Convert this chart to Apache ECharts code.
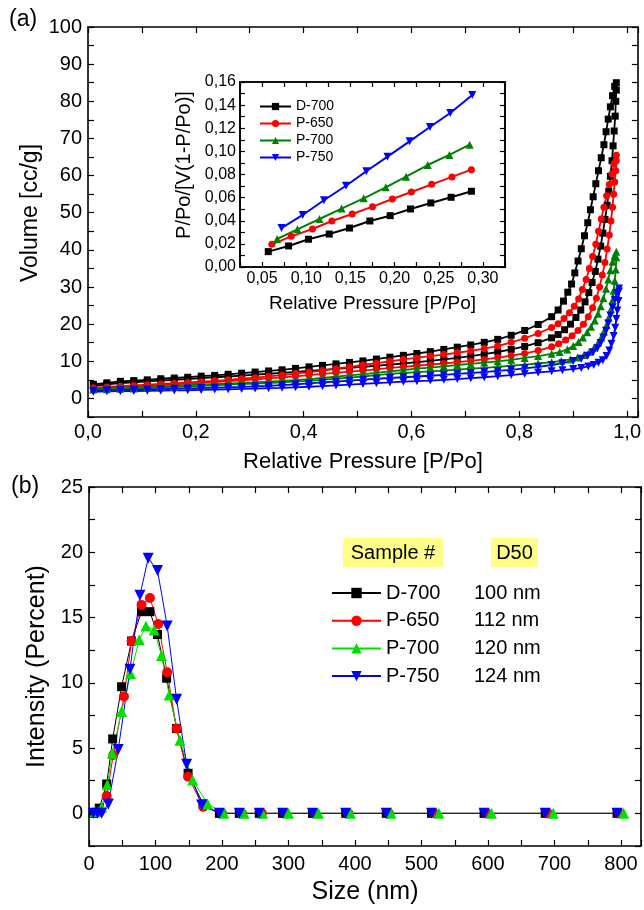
<!DOCTYPE html>
<html>
<head>
<meta charset="utf-8">
<script src="https://cdn.jsdelivr.net/npm/echarts@6/dist/echarts.min.js"></script>
<style>
  html, body { margin: 0; padding: 0; background: #fff; }
  #chart { width: 644px; height: 910px; }
</style>
</head>
<body>
<div id="chart"></div>
<script>
const FONT = '"Liberation Sans", Arial, sans-serif';

const samples = ['D-700', 'P-650', 'P-700', 'P-750'];
const d50 = ['100 nm', '112 nm', '120 nm', '124 nm'];

// (a) isotherms: shared low-pressure grid, then the steep part as [P, V]
const pLow = [0.01, 0.035, 0.06, 0.085, 0.11, 0.135, 0.16, 0.185, 0.21, 0.235, 0.26, 0.285, 0.31, 0.335, 0.36, 0.385, 0.41, 0.435, 0.46, 0.485, 0.51, 0.535, 0.56, 0.585, 0.61, 0.635, 0.66, 0.685, 0.71, 0.735, 0.76, 0.785, 0.81, 0.835, 0.86];

const d700Des = [3.8, 4.2, 4.6, 4.8, 5.0, 5.3, 5.5, 5.7, 6.0, 6.2, 6.5, 6.8, 7.1, 7.4, 7.7, 8.1, 8.5, 8.9, 9.3, 9.7, 10.1, 10.6, 11.1, 11.6, 12.1, 12.6, 13.2, 13.8, 14.4, 15.1, 15.9, 17.0, 18.3, 19.9, 22.0];
const d700DesHigh = [[0.872, 23.8], [0.882, 26.2], [0.89, 28.6], [0.897, 30.8], [0.903, 33.8], [0.909, 37], [0.915, 40.3], [0.921, 43.8], [0.927, 47.3], [0.932, 50.8], [0.937, 54.3], [0.942, 57.8], [0.947, 61.3], [0.952, 64.8], [0.957, 68.3], [0.961, 71.8], [0.965, 75.2], [0.969, 78.5], [0.973, 81.5], [0.977, 84], [0.98, 85]];
const d700Ads = [3.4, 3.8, 4.1, 4.35, 4.6, 4.8, 5.0, 5.2, 5.45, 5.7, 5.9, 6.15, 6.4, 6.65, 6.9, 7.15, 7.4, 7.7, 7.95, 8.2, 8.5, 8.8, 9.1, 9.4, 9.75, 10.1, 10.5, 10.9, 11.4, 11.9, 12.5, 13.2, 14.0, 15.0, 16.3];
const d700AdsHigh = [[0.872, 17.2], [0.884, 18.5], [0.895, 20], [0.905, 21.8], [0.914, 23.8], [0.922, 26], [0.929, 28.5], [0.935, 31.2], [0.941, 34.2], [0.946, 37.5], [0.951, 41], [0.955, 44.5], [0.959, 48.2], [0.963, 52], [0.966, 55.8], [0.969, 59.8], [0.972, 64], [0.974, 68], [0.976, 72], [0.978, 76], [0.979, 80], [0.98, 83]];

const p650Des = [2.9, 3.1, 3.3, 3.5, 3.7, 3.9, 4.1, 4.3, 4.5, 4.75, 5.0, 5.3, 5.6, 5.95, 6.3, 6.7, 7.1, 7.5, 8.0, 8.5, 9.0, 9.5, 10.0, 10.5, 10.9, 11.4, 11.8, 12.3, 12.8, 13.4, 14.1, 15.1, 16.2, 17.5, 19.1];
const p650DesHigh = [[0.872, 20.1], [0.883, 21.5], [0.893, 23.1], [0.902, 24.8], [0.91, 26.8], [0.917, 29.3], [0.924, 32], [0.93, 35], [0.936, 38.2], [0.942, 41.5], [0.947, 45], [0.952, 48.3], [0.957, 51.5], [0.962, 54.6], [0.967, 57.6], [0.972, 60.5], [0.976, 63.2], [0.98, 65.5]];
const p650Ads = [2.6, 2.8, 3.0, 3.2, 3.4, 3.6, 3.8, 4.0, 4.2, 4.4, 4.65, 4.9, 5.15, 5.4, 5.65, 5.95, 6.25, 6.6, 6.9, 7.2, 7.5, 7.85, 8.2, 8.5, 8.8, 9.1, 9.4, 9.75, 10.1, 10.5, 11.0, 11.5, 12.1, 12.9, 13.9];
const p650AdsHigh = [[0.873, 14.7], [0.886, 15.7], [0.898, 16.9], [0.909, 18.3], [0.919, 20], [0.928, 22], [0.936, 24.4], [0.943, 27], [0.949, 30], [0.954, 33.2], [0.959, 36.6], [0.963, 40.2], [0.967, 44], [0.97, 47.8], [0.973, 51.5], [0.975, 55], [0.977, 58.3], [0.979, 61.3], [0.98, 64]];

const p700Des = [2.7, 2.8, 2.9, 3.0, 3.1, 3.25, 3.4, 3.55, 3.7, 3.85, 4.0, 4.15, 4.3, 4.5, 4.7, 4.95, 5.2, 5.5, 5.85, 6.2, 6.55, 6.9, 7.3, 7.65, 8.0, 8.3, 8.65, 9.0, 9.3, 9.65, 10.0, 10.4, 10.9, 11.4, 12.0];
const p700DesHigh = [[0.875, 12.5], [0.889, 13.2], [0.9, 14.1], [0.91, 15.2], [0.918, 16.4], [0.926, 17.8], [0.933, 19.3], [0.94, 21], [0.946, 22.8], [0.951, 24.8], [0.956, 27], [0.961, 29.5], [0.965, 32], [0.969, 34.5], [0.973, 36.8], [0.977, 38.5], [0.98, 39.5]];
const p700Ads = [2.4, 2.5, 2.6, 2.7, 2.8, 2.95, 3.1, 3.25, 3.4, 3.55, 3.7, 3.85, 4.0, 4.15, 4.3, 4.5, 4.75, 5.0, 5.3, 5.6, 5.9, 6.25, 6.6, 6.85, 7.1, 7.3, 7.5, 7.75, 8.0, 8.25, 8.5, 8.8, 9.1, 9.4, 9.75];
const p700AdsHigh = [[0.878, 10.1], [0.895, 10.5], [0.908, 11], [0.92, 11.7], [0.93, 12.6], [0.939, 13.7], [0.946, 15], [0.952, 16.4], [0.957, 18], [0.962, 19.8], [0.966, 21.8], [0.97, 24], [0.973, 26.5], [0.975, 29], [0.977, 31.7], [0.979, 34.7], [0.98, 38]];

const p750Des = [2.1, 2.2, 2.3, 2.35, 2.4, 2.5, 2.6, 2.7, 2.8, 2.9, 3.0, 3.1, 3.25, 3.4, 3.6, 3.8, 4.05, 4.3, 4.55, 4.8, 5.05, 5.3, 5.5, 5.7, 5.9, 6.1, 6.35, 6.6, 6.85, 7.1, 7.4, 7.7, 8.1, 8.5, 9.0];
const p750DesHigh = [[0.88, 9.5], [0.9, 10.1], [0.915, 10.7], [0.927, 11.5], [0.937, 12.4], [0.945, 13.5], [0.951, 14.9], [0.956, 16.4], [0.961, 18.2], [0.965, 20.2], [0.969, 22.3], [0.973, 24.5], [0.977, 26.6], [0.981, 28.4], [0.985, 29.6]];
const p750Ads = [1.8, 1.9, 1.95, 2.0, 2.05, 2.1, 2.15, 2.2, 2.3, 2.4, 2.45, 2.55, 2.65, 2.75, 2.85, 3.0, 3.15, 3.3, 3.5, 3.7, 3.9, 4.1, 4.3, 4.5, 4.65, 4.8, 5.0, 5.2, 5.45, 5.7, 6.0, 6.3, 6.65, 7.0, 7.3];
const p750AdsHigh = [[0.88, 7.6], [0.9, 7.9], [0.915, 8.2], [0.928, 8.6], [0.938, 9.0], [0.947, 9.6], [0.955, 10.3], [0.962, 11.4], [0.967, 12.9], [0.971, 14.7], [0.975, 16.8], [0.978, 19], [0.98, 21.4], [0.982, 23.7], [0.984, 26.2], [0.985, 28.8]];

// inset: BET plot
const insetD700 = [[0.057, 0.0133], [0.080, 0.0182], [0.1025, 0.024], [0.126, 0.0285], [0.149, 0.0337], [0.172, 0.0398], [0.195, 0.0444], [0.218, 0.0502], [0.241, 0.0554], [0.264, 0.0603], [0.287, 0.0655]];
const insetP650 = [[0.061, 0.0196], [0.083, 0.0265], [0.107, 0.0329], [0.129, 0.0398], [0.152, 0.0458], [0.175, 0.0522], [0.1975, 0.0588], [0.219, 0.0649], [0.242, 0.0715], [0.265, 0.0779], [0.287, 0.0842]];
const insetP700 = [[0.067, 0.0242], [0.090, 0.0326], [0.115, 0.0415], [0.140, 0.0505], [0.165, 0.0594], [0.190, 0.0689], [0.213, 0.0781], [0.2375, 0.0882], [0.262, 0.0969], [0.285, 0.1058]];
const insetP750 = [[0.072, 0.0337], [0.096, 0.045], [0.120, 0.0577], [0.145, 0.0703], [0.168, 0.0828], [0.192, 0.0954], [0.217, 0.1087], [0.240, 0.1211], [0.263, 0.1332], [0.288, 0.1488]];

// (b) size distribution [size nm, intensity %]
const psdD700 = [[6.5, 0], [15.5, 0.4], [26.6, 2.25], [35.6, 5.7], [49, 9.7], [64, 13.2], [79, 15.45], [91.6, 15.45], [103, 13.7], [116.7, 10.35], [131.7, 6.5], [149, 3.07], [171.7, 0.72], [196, 0], [226, 0], [256, 0], [291, 0], [336, 0], [386, 0], [447, 0], [515, 0], [594, 0], [686, 0], [794, 0]];
const psdP650 = [[16.5, 0.13], [26.6, 1.33], [36.5, 4.47], [52.6, 8.95], [64, 13.2], [79, 15.97], [91.6, 16.5], [104, 14.5], [117.6, 10.8], [131.7, 6.5], [149, 2.8], [171.7, 0.5], [200, 0], [230, 0], [260, 0], [295, 0], [340, 0], [390, 0], [451, 0], [519, 0], [598, 0], [690, 0], [798, 0]];
const psdP700 = [[9, 0.13], [19, 0.47], [27.5, 2.2], [35, 4.6], [49, 7.8], [62.6, 10.7], [75.6, 13.3], [85.6, 14.35], [98, 14.05], [109, 12.1], [120.6, 9.07], [136.7, 5.6], [155.8, 2.56], [178.3, 0.72], [202.6, 0], [233, 0], [261, 0], [300, 0], [345, 0], [393, 0], [454, 0], [526, 0], [605, 0], [698, 0], [804, 0]];
const psdP750 = [[6.5, 0], [13, 0], [19, 0], [29, 0.72], [44, 4.9], [61.6, 11.04], [76.6, 16.7], [89, 19.55], [103, 18.6], [117.6, 14.36], [131.7, 8.74], [146.8, 3.76], [169.3, 0.64], [196, 0], [226, 0], [256, 0], [291, 0], [336, 0], [386, 0], [447, 0], [515, 0], [594, 0], [686, 0], [794, 0]];

const topColors = ['#000000', '#ff0000', '#008000', '#0000ff'];
const botColors = ['#000000', '#ff0000', '#00e000', '#0000ff'];
const symbols = ['rect', 'circle', 'triangle', 'triangle'];
const rotates = [0, 0, 0, 180];

const isotherms = [
  [d700Ads, d700AdsHigh, d700Des, d700DesHigh],
  [p650Ads, p650AdsHigh, p650Des, p650DesHigh],
  [p700Ads, p700AdsHigh, p700Des, p700DesHigh],
  [p750Ads, p750AdsHigh, p750Des, p750DesHigh]
];
const insets = [insetD700, insetP650, insetP700, insetP750];
const psds = [psdD700, psdP650, psdP700, psdP750];

// label only on multiples of step, comma decimals
function fmt(step, dec) {
  return function (v) {
    const k = Math.round(v / step);
    if (Math.abs(v - k * step) > step * 1e-3) return '';
    return (k * step).toFixed(dec).replace('.', ',');
  };
}

function axis(pos, grid, min, max, interval, o) {
  const main = pos === 'bottom' || pos === 'left';
  return {
    type: 'value', gridIndex: grid, position: pos,
    min: min, max: max, interval: interval,
    axisLine: { show: true, onZero: false, lineStyle: { color: '#000', width: 1.6 } },
    axisTick: { show: true, inside: true, length: o.tick || 6, lineStyle: { color: '#000', width: 1.2 } },
    splitLine: { show: false },
    axisLabel: {
      show: main, formatter: o.fmt, color: '#000', fontSize: o.fs,
      fontFamily: FONT, margin: o.margin
    },
    name: main ? o.name : '',
    nameLocation: 'middle',
    nameGap: o.gap,
    nameTextStyle: { color: '#000', fontSize: o.nfs, fontFamily: FONT }
  };
}

const mainX = { fmt: fmt(0.2, 1), fs: 20, margin: 5, name: 'Relative Pressure [P/Po]', gap: 34, nfs: 22 };
const mainY = { fmt: fmt(10, 0), fs: 20, margin: 6, name: '', gap: 45, nfs: 23 };
const insX = { fmt: fmt(0.05, 2), fs: 16, margin: 4, name: 'Relative Pressure [P/Po]', gap: 27, nfs: 19, tick: 5 };
const insY = { fmt: fmt(0.02, 2), fs: 16, margin: 4, name: '', gap: 46, nfs: 20, tick: 5 };
const psdX = { fmt: fmt(100, 0), fs: 20, margin: 8, name: 'Size (nm)', gap: 34, nfs: 25 };
const psdY = { fmt: fmt(5, 0), fs: 20, margin: 6, name: 'Intensity (Percent)', gap: 38, nfs: 25 };

const series = [];
isotherms.forEach(function (s, i) {
  const ads = pLow.map(function (p, j) { return [p, s[0][j]]; }).concat(s[1]);
  const des = pLow.map(function (p, j) { return [p, s[2][j]]; }).concat(s[3]);
  [ads, des].forEach(function (data, b) {
    series.push({
      name: samples[i] + (b ? ' des' : ' ads'),
      type: 'line', xAxisIndex: 0, yAxisIndex: 0, data: data,
      symbol: symbols[i], symbolRotate: rotates[i], symbolSize: i >= 2 ? 8 : 7,
      lineStyle: { color: topColors[i], width: 1.8 },
      itemStyle: { color: topColors[i] }
    });
  });
});
insets.forEach(function (data, i) {
  series.push({
    name: samples[i], type: 'line', xAxisIndex: 2, yAxisIndex: 2, data: data,
    symbol: symbols[i], symbolRotate: rotates[i], symbolSize: i >= 2 ? 8 : 7,
    lineStyle: { color: topColors[i], width: 2 },
    itemStyle: { color: topColors[i] }
  });
});
psds.forEach(function (data, i) {
  series.push({
    name: 'b:' + samples[i], type: 'line', xAxisIndex: 4, yAxisIndex: 4, data: data,
    symbol: symbols[i], symbolRotate: rotates[i], symbolSize: i === 0 ? 9 : (i === 1 ? 10 : 11),
    lineStyle: { color: botColors[i], width: 1 },
    itemStyle: { color: botColors[i] }
  });
});

const chart = echarts.init(document.getElementById('chart'), null, { renderer: 'canvas' });
chart.setOption({
  animation: false,
  backgroundColor: '#fff',
  textStyle: { fontFamily: FONT },
  grid: [
    { left: 88, top: 27, width: 553, height: 390, containLabel: false },
    { left: 240, top: 82, width: 265, height: 185, containLabel: false, show: true, backgroundColor: '#fff', borderColor: '#000', borderWidth: 1.6 },
    { left: 89, top: 487, width: 552, height: 359, containLabel: false }
  ],
  xAxis: [
    axis('bottom', 0, 0, 1.02, 0.1, mainX),
    axis('top', 0, 0, 1.02, 0.1, mainX),
    axis('bottom', 1, 0.025, 0.325, 0.025, insX),
    axis('top', 1, 0.025, 0.325, 0.025, insX),
    axis('bottom', 2, 0, 830, 50, psdX),
    axis('top', 2, 0, 830, 50, psdX)
  ],
  yAxis: [
    axis('left', 0, -5, 100, 5, mainY),
    axis('right', 0, -5, 100, 5, mainY),
    axis('left', 1, 0, 0.16, 0.01, insY),
    axis('right', 1, 0, 0.16, 0.01, insY),
    axis('left', 2, -2.5, 25, 2.5, psdY),
    axis('right', 2, -2.5, 25, 2.5, psdY)
  ],
  legend: [
    {
      data: samples, orient: 'vertical', left: 259, top: 98, padding: 0,
      itemWidth: 31, itemHeight: 9, itemGap: 0, selectedMode: false,
      textStyle: { fontSize: 14, lineHeight: 17, color: '#000', fontFamily: FONT }
    },
    {
      data: samples.map(function (s) { return 'b:' + s; }),
      orient: 'vertical', left: 331, top: 581, padding: 0,
      itemWidth: 49, itemHeight: 13, itemGap: 3.7, selectedMode: false,
      formatter: function (n) {
        const i = samples.indexOf(n.slice(2));
        return '{n|' + samples[i] + '}{d|' + d50[i] + '}';
      },
      textStyle: {
        fontSize: 20, lineHeight: 24, color: '#000', fontFamily: FONT,
        rich: {
          n: { width: 88, fontSize: 20, fontFamily: FONT, color: '#000' },
          d: { fontSize: 20, fontFamily: FONT, color: '#000' }
        }
      }
    }
  ],
  graphic: [
    { type: 'text', left: 9, top: 8, style: { text: '(a)', fontSize: 23, fontFamily: FONT, fill: '#000' } },
    { type: 'text', left: 11, top: 475, style: { text: '(b)', fontSize: 23, fontFamily: FONT, fill: '#000' } },
    { type: 'text', x: 31, y: 213, rotation: Math.PI / 2, style: { text: 'Volume [cc/g]', fontSize: 23, fontFamily: FONT, fill: '#000', align: 'center', verticalAlign: 'middle' } },
    { type: 'text', x: 184, y: 165, rotation: Math.PI / 2, style: { text: 'P/Po/[V(1-P/Po)]', fontSize: 20, fontFamily: FONT, fill: '#000', align: 'center', verticalAlign: 'middle' } },
    { type: 'rect', shape: { x: 343, y: 538, width: 100, height: 29 }, style: { fill: '#ffff88' }, z: 1 },
    { type: 'rect', shape: { x: 491, y: 538, width: 47, height: 29 }, style: { fill: '#ffff88' }, z: 1 },
    { type: 'text', x: 393, y: 553, z: 2, style: { text: 'Sample #', fontSize: 20, fontFamily: FONT, fill: '#000', align: 'center', verticalAlign: 'middle' } },
    { type: 'text', x: 514.5, y: 553, z: 2, style: { text: 'D50', fontSize: 20, fontFamily: FONT, fill: '#000', align: 'center', verticalAlign: 'middle' } }
  ],
  series: series
});
</script>
</body>
</html>
